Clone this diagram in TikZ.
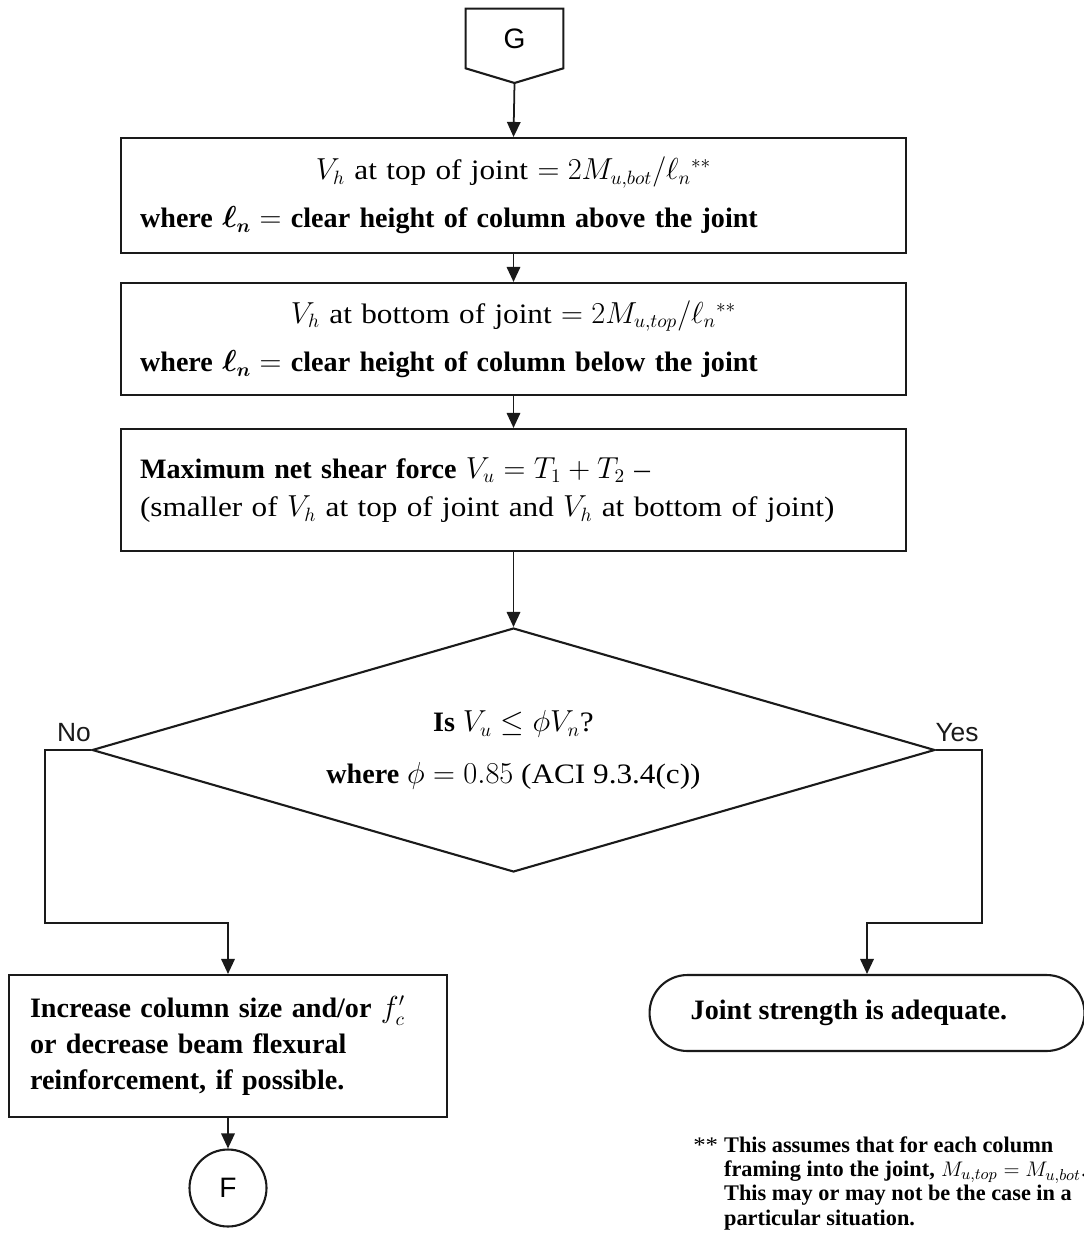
\documentclass[tikz,border=0pt]{standalone}
\usepackage{amsmath}
\usepackage{fontspec}
\setmainfont{Liberation Serif}[UprightFeatures={FakeStretch=1.11}]
\newfontfamily\sansfont{Liberation Sans}
\usepackage{tikz}
\usetikzlibrary{arrows.meta,calc,positioning,shapes.geometric}
\definecolor{ink}{HTML}{1A1A1A}
\tikzset{
  procbox/.style={draw=ink,line width=1.2pt,minimum width=15.7cm,inner xsep=.38cm,text width=14.94cm,align=left,font=\fontsize{16pt}{19pt}\selectfont},
  decision/.style={draw=ink,line width=1.2pt,diamond,aspect=3.45,inner sep=0pt,minimum width=16.86cm,minimum height=4.88cm,align=center,font=\fontsize{16pt}{19pt}\selectfont},
  terminal/.style={draw=ink,line width=1.2pt,rounded corners=.76cm,minimum width=8.7cm,minimum height=1.52cm,inner sep=0pt,font=\bfseries\fontsize{16pt}{19pt}\selectfont},
  connector/.style={draw=ink,line width=1.2pt,circle,minimum size=1.54cm,inner sep=0pt,font=\sansfont\fontsize{16pt}{18pt}\selectfont},
  flow/.style={-{Triangle[length=.3cm,width=.27cm]},draw=ink,line width=1pt},
  branch/.style={font=\sansfont\fontsize{15pt}{17pt}\selectfont,text=ink}
}

\begin{document}
\begin{tikzpicture}[x=.02cm,y=-.02cm]
  \useasboundingbox (0,0) rectangle (1083,1239);
  \node[minimum width=1.94cm,minimum height=1.18cm,inner sep=0pt,font=\sansfont\fontsize{16pt}{18pt}\selectfont] (G) at (514.5,38.5) {G};
  \coordinate (gtip) at (514.5,83);
  \draw[draw=ink,line width=1.2pt] (G.north west) -- (G.north east) -- (G.south east) -- (gtip) -- (G.south west) -- cycle;
  \node[procbox,minimum height=2.3cm] (top) at (513.5,195.5)
    {\makebox[\linewidth]{$V_h$ at top of joint $= 2M_{u,bot}/\ell_n{}^{**}$}\\[.3cm]
     \textbf{where $\boldsymbol{\ell_n} =$ clear height of column above the joint}};
  \node[procbox,minimum height=2.24cm] (bottom) at (513.5,339)
    {\makebox[\linewidth]{$V_h$ at bottom of joint $= 2M_{u,top}/\ell_n{}^{**}$}\\[.3cm]
     \textbf{where $\boldsymbol{\ell_n} =$ clear height of column below the joint}};
  \node[procbox,minimum height=2.44cm] (shear) at (513.5,490)
    {\textbf{Maximum net shear force} $V_u = T_1 + T_2$ --\\[.1cm]
     (smaller of $V_h$ at top of joint and $V_h$ at bottom of joint)\\[.2cm]};
  \node[decision] (check) at (513.5,750)
    {\textbf{Is} $V_u \leq \phi V_n$?\\[.36cm] \textbf{where} $\phi = 0.85$ (ACI 9.3.4(c))};
  \node[procbox,minimum width=8.76cm,inner xsep=.42cm,text width=7.92cm,minimum height=2.84cm,font=\bfseries\fontsize{16pt}{20.5pt}\selectfont] (fix) at (228,1046)
    {Increase column size and/or $f_c'$\\ or decrease beam flexural\\ reinforcement, if possible.};
  \node[connector] (F) at (228,1188) {F};
  \node[terminal] (done) at (867,1013) {Joint strength is adequate.\hspace*{.72cm}};
  \node[branch] (no) at (74,733) {No};
  \node[branch] (yes) at (957,733) {Yes};
  \coordinate (nobend) at (45,923);
  \coordinate (yesbend) at (982,923);
  \draw[flow] (gtip) -- (top.north);
  \draw[flow] (top) -- (bottom);
  \draw[flow] (bottom) -- (shear);
  \draw[flow] (shear) -- (check);
  \draw[flow] (check.west) -| (nobend) -| (fix.north);
  \draw[flow] (check.east) -| (yesbend) -| (done.north);
  \draw[flow] (fix) -- (F);
  \node[anchor=west,inner sep=0pt,align=left,font=\fontsize{12.7pt}{13.8pt}\selectfont] (note) at (693,1184)
    {\begin{tabular}{@{}l@{\hspace{.12cm}}l@{}}
     ** & \textbf{This assumes that for each column}\\
        & \textbf{framing into the joint,} $M_{u,top} = M_{u,bot}$.\\
        & \textbf{This may or may not be the case in a}\\
        & \textbf{particular situation.}
     \end{tabular}};
\end{tikzpicture}
\end{document}
